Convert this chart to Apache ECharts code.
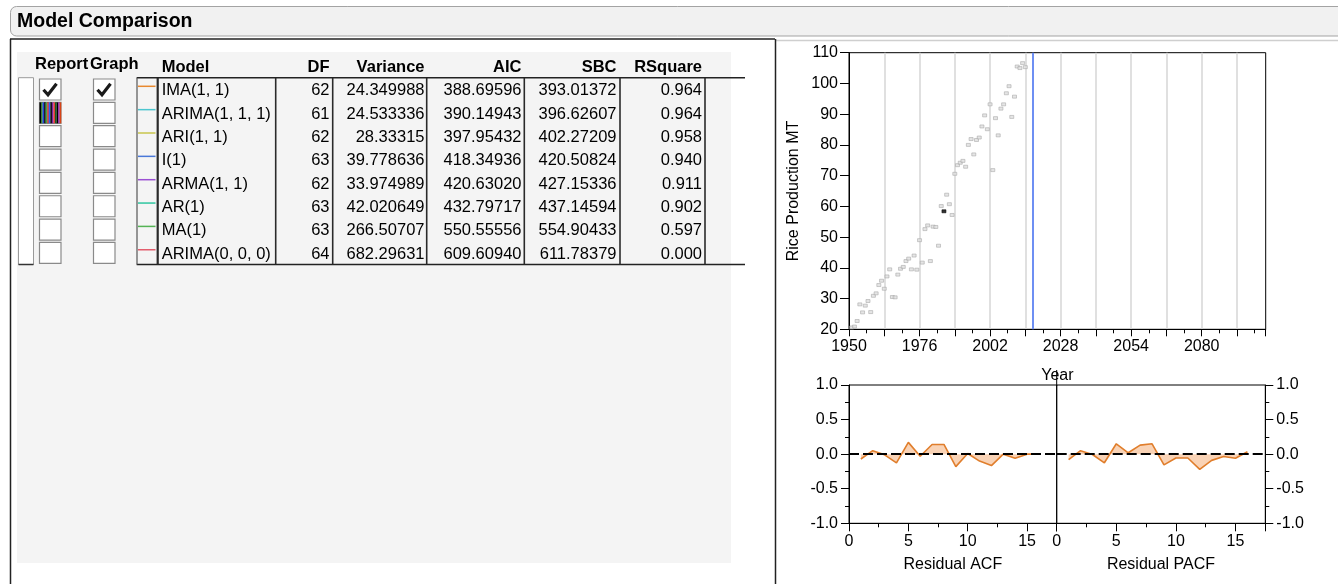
<!DOCTYPE html>
<html><head><meta charset="utf-8">
<script src="https://cdn.jsdelivr.net/npm/echarts@6/dist/echarts.min.js"></script>
<style>html,body{margin:0;padding:0;background:#fff}#c{width:1338px;height:584px}</style>
</head><body><div id="c"></div>
<script>
// ---------- data ----------
const panelTitle = 'Model Comparison';
const tableHeaders = ['Model', 'DF', 'Variance', 'AIC', 'SBC', 'RSquare'];
const models = ['IMA(1, 1)', 'ARIMA(1, 1, 1)', 'ARI(1, 1)', 'I(1)', 'ARMA(1, 1)', 'AR(1)', 'MA(1)', 'ARIMA(0, 0, 0)'];
const dfValues = ['62', '61', '62', '63', '62', '63', '63', '64'];
const varianceValues = ['24.349988', '24.533336', '28.33315', '39.778636', '33.974989', '42.020649', '266.50707', '682.29631'];
const aicValues = ['388.69596', '390.14943', '397.95432', '418.34936', '420.63020', '432.79717', '550.55556', '609.60940'];
const sbcValues = ['393.01372', '396.62607', '402.27209', '420.50824', '427.15336', '437.14594', '554.90433', '611.78379'];
const rsquareValues = ['0.964', '0.964', '0.958', '0.940', '0.911', '0.902', '0.597', '0.000'];
const modelColors = ['#e8892f', '#4cc6cf', '#c9c64c', '#4a78d8', '#9b4fd3', '#2fc6a0', '#55b355', '#e35d6d'];

const years = [1951,1952,1953,1954,1955,1956,1957,1958,1959,1960,1961,1962,1963,1964,1965,1966,1967,1968,1969,1970,
  1971,1972,1973,1974,1975,1976,1977,1978,1979,1980,1981,1982,1983,1984,1985,1986,1987,1988,1989,1990,
  1991,1992,1993,1994,1995,1996,1997,1998,1999,2000,2001,2002,2003,2004,2005,2006,2007,2008,2009,2010,
  2011,2012,2013,2014,2015];
const production = [20.6,20.9,22.7,28.1,25.5,27.7,29.2,25.6,30.9,31.7,34.4,35.8,33.2,37.2,39.5,30.5,30.4,37.8,39.7,40.3,
  42.2,43.0,39.5,44.0,39.4,49.0,41.7,52.6,53.8,42.2,53.4,53.3,47.2,60.1,58.4,63.8,60.7,57.2,70.6,73.4,
  74.2,74.8,72.9,80.0,81.9,76.9,81.6,82.4,86.0,89.6,85.1,93.2,71.8,88.7,83.1,91.8,93.2,96.8,99.1,89.1,
  95.7,105.5,105.0,106.6,105.3];
const selectedYear = 1985;
const forecastStart = 2017.6;

const lags = [1,2,3,4,5,6,7,8,9,10,11,12,13,14,15,16];
const residualACF = [-0.07,0.05,-0.01,-0.125,0.17,-0.03,0.14,0.14,-0.18,0.01,-0.10,-0.165,0.0,-0.06,0.0,0.0];
const residualPACF = [-0.08,0.05,-0.005,-0.125,0.15,0.02,0.13,0.15,-0.155,-0.055,-0.055,-0.22,-0.09,-0.035,-0.06,0.035];

// ---------- drawing ----------
const FONT = '"Liberation Sans", Arial, Helvetica, sans-serif';
const chart = echarts.init(document.getElementById('c'), null, {renderer: 'canvas'});
const g = [];
function rect(x, y, w, h, fill, stroke, lw, r) {
  g.push({type: 'rect', silent: true, z: -5, shape: {x, y, width: w, height: h, r: r || 0},
    style: {fill: fill, stroke: stroke || null, lineWidth: lw || 1}});
}
function line(x1, y1, x2, y2, stroke, lw) {
  g.push({type: 'line', silent: true, shape: {x1, y1, x2, y2}, style: {stroke, lineWidth: lw || 1}});
}
function text(x, y, t, opt) {
  g.push({type: 'text', silent: true, x, y,
    style: Object.assign({text: t, fontSize: 16.5, fontFamily: FONT, fill: '#000', align: 'left', verticalAlign: 'middle'}, opt || {})});
}
function check(x, cy) {
  g.push({type: 'polyline', silent: true, shape: {points: [[x + 4, cy], [x + 8.5, cy + 5], [x + 17, cy - 6]]},
    style: {stroke: '#1a1a1a', lineWidth: 3.2, fill: null}});
}

// title bar & frames
rect(10.5, 6.5, 1345, 29.5, '#f1f1f1', '#a3a3a3', 1, 6);
text(17, 21.5, panelTitle, {fontSize: 19.5, fontWeight: 'bold'});
line(10, 39, 775, 39, '#222', 1.5);
line(775, 40.5, 1338, 40.5, '#cfcfcf', 1.5);
line(10.5, 39, 10.5, 584, '#222', 1.5);
line(775.5, 39, 775.5, 584, '#222', 1.5);
rect(17, 52, 714, 511, '#f4f4f4', null);

// table
const ROW0 = 77.7, ROWH = 23.35, NR = models.length;
const tableBottom = ROW0 + ROWH * NR;
rect(18.5, ROW0, 15, tableBottom - ROW0, '#ffffff', '#9a9a9a', 1);
line(18.5, tableBottom, 33.5, tableBottom, '#333', 1.5);
text(35, 64.5, 'Report', {fontWeight: 'bold'});
text(90, 64.5, 'Graph', {fontWeight: 'bold'});
const stripeColors = ['#000','#2e7d32','#1e3fd8','#000','#44a845','#c62828','#2962ff','#000','#7b1fa2','#e53935','#1b5e20','#000','#8e24aa','#d84315'];
for (let i = 0; i < NR; i++) {
  const top = ROW0 + ROWH * i + 1.3;
  rect(39.5, top, 21.5, 21, '#ffffff', '#8a8a8a', 1.2);
  rect(93.5, top, 21.5, 21, '#ffffff', '#8a8a8a', 1.2);
  line(138, ROW0 + ROWH * i + 8.6, 155.5, ROW0 + ROWH * i + 8.6, modelColors[i], 1.5);
}
check(39.5, ROW0 + 12);
check(93.5, ROW0 + 12);
stripeColors.forEach((c, k) => {
  g.push({type: 'rect', silent: true, z: -4, shape: {x: 39.5 + k * 1.55, y: ROW0 + ROWH + 1.3, width: 1.6, height: 21}, style: {fill: c}});
});
// bracket + grid lines
line(136.7, ROW0, 745, ROW0, '#222', 1.5);
line(136.7, tableBottom, 745, tableBottom, '#222', 1.5);
line(137, ROW0, 137, tableBottom, '#555', 1.2);
[157.7, 275.7, 332.7, 426.7, 524.3, 620, 705].forEach((x, k) => line(x, ROW0, x, tableBottom, '#2a2a2a', k === 0 ? 2.2 : 1.6));
const cols = [
  {vals: models, x: 161.7, align: 'left'},
  {vals: dfValues, x: 329.5, align: 'right'},
  {vals: varianceValues, x: 424.5, align: 'right'},
  {vals: aicValues, x: 521.5, align: 'right'},
  {vals: sbcValues, x: 616.5, align: 'right'},
  {vals: rsquareValues, x: 702, align: 'right'}
];
cols.forEach((c, k) => {
  text(c.x, 67.5, tableHeaders[k], {fontWeight: 'bold', align: c.align});
  c.vals.forEach((v, i) => text(c.x, ROW0 + ROWH * i + 13, v, {align: c.align}));
});
// divider line between ACF and PACF extending upward
line(1056.7, 370, 1056.7, 386, '#000', 1);

const axisTextStyle = {color: '#000', fontSize: 16, fontFamily: FONT};
const blackLine = {onZero: false, lineStyle: {color: '#000', width: 1}};
function acfX(idx, name) {
  return {type: 'value', gridIndex: idx, min: 0, max: 17.5, interval: 5,
    axisLine: blackLine, axisTick: {length: 8, lineStyle: {color: '#000'}},
    minorTick: {show: true, splitNumber: 2, length: 4, lineStyle: {color: '#000'}},
    splitLine: {show: false},
    axisLabel: Object.assign({margin: 10, formatter: v => (Number.isInteger(v) && v % 5 === 0 ? String(v) : '')}, axisTextStyle),
    name, nameLocation: 'middle', nameGap: 33, nameTextStyle: axisTextStyle};
}
function acfY(idx, pos) {
  return {type: 'value', gridIndex: idx, position: pos, min: -1, max: 1, interval: 0.5,
    axisLine: blackLine, axisTick: {length: 8, lineStyle: {color: '#000'}},
    minorTick: {show: true, splitNumber: 2, length: 4, lineStyle: {color: '#000'}},
    splitLine: {show: false},
    axisLabel: Object.assign({margin: 11, formatter: v => v.toFixed(1)}, axisTextStyle)};
}
function acfSeries(idx, vals) {
  return {type: 'line', xAxisIndex: idx, yAxisIndex: idx, data: lags.map((l, i) => [l, vals[i]]),
    symbol: 'none', color: '#e07e2c', lineStyle: {color: '#e07e2c', width: 1.6},
    areaStyle: {color: 'rgba(240,150,80,0.6)', origin: 0},
    markLine: {silent: true, symbol: 'none', label: {show: false},
      lineStyle: {color: '#000', width: 2, type: [10, 4]}, data: [{yAxis: 0}]}};
}

const option = {
  animation: false,
  backgroundColor: '#fff',
  textStyle: {fontFamily: FONT},
  graphic: g,
  grid: [
    {left: 849, top: 52.7, width: 416.7, height: 276.6, show: true, borderColor: '#000', borderWidth: 1, containLabel: false, outerBoundsMode: 'none'},
    {left: 849, top: 385, width: 207.7, height: 138.3, show: true, borderColor: '#000', borderWidth: 1, containLabel: false, outerBoundsMode: 'none'},
    {left: 1056.7, top: 385, width: 208.6, height: 138.3, show: true, borderColor: '#000', borderWidth: 1, containLabel: false, outerBoundsMode: 'none'}
  ],
  xAxis: [
    {type: 'value', gridIndex: 0, min: 1950, max: 2103.6, interval: 13,
      axisLine: blackLine, axisTick: {length: 7, lineStyle: {color: '#000'}},
      minorTick: {show: true, splitNumber: 2, length: 4, lineStyle: {color: '#000'}},
      splitLine: {show: true, showMinLine: false, showMaxLine: false, lineStyle: {color: '#d6d6d6', width: 1.5}},
      axisLabel: Object.assign({margin: 9, formatter: v => ((v - 1950) % 26 === 0 ? String(v) : '')}, axisTextStyle),
      name: 'Year', nameLocation: 'middle', nameGap: 38, nameTextStyle: axisTextStyle},
    acfX(1, 'Residual ACF'),
    acfX(2, 'Residual PACF')
  ],
  yAxis: [
    {type: 'value', gridIndex: 0, min: 20, max: 110, interval: 10,
      axisLine: blackLine, axisTick: {length: 9, lineStyle: {color: '#000'}},
      splitLine: {show: false},
      axisLabel: Object.assign({margin: 11}, axisTextStyle),
      name: 'Rice Production MT', nameLocation: 'middle', nameGap: 47, nameRotate: 90, nameTextStyle: axisTextStyle},
    acfY(1, 'left'),
    acfY(2, 'right')
  ],
  series: [
    {type: 'scatter', xAxisIndex: 0, yAxisIndex: 0, symbol: 'rect', symbolSize: [4, 3],
      itemStyle: {color: '#dedede', borderColor: '#a6a6a6', borderWidth: 0.7},
      data: years.map((y, i) => (y === selectedYear
        ? {value: [y, production[i]], itemStyle: {color: '#000', borderColor: '#000'}}
        : [y, production[i]])),
      markLine: {silent: true, symbol: 'none', label: {show: false},
        lineStyle: {color: '#6e8ff3', width: 2, type: 'solid'}, data: [{xAxis: forecastStart}]}},
    acfSeries(1, residualACF),
    acfSeries(2, residualPACF)
  ]
};
chart.setOption(option);
</script>
</body></html>
